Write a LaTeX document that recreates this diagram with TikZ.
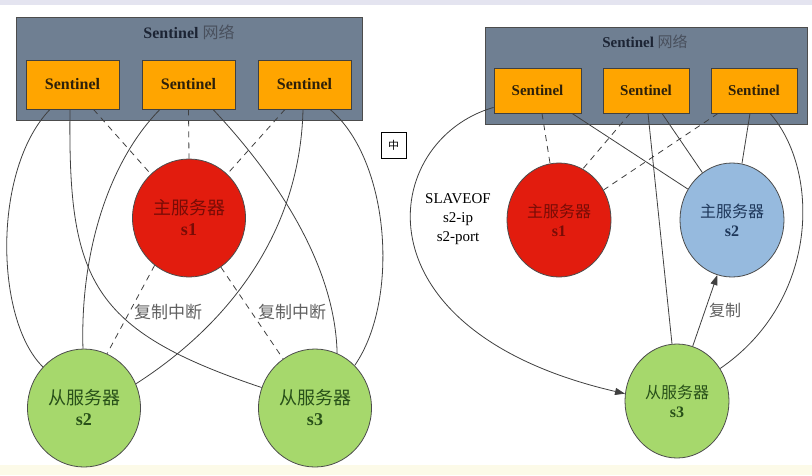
\documentclass[tikz,border=0pt]{standalone}
\usepackage{fontspec}
\setmainfont{Liberation Serif}
\newfontfamily\cjk{Noto Sans CJK SC}
\usetikzlibrary{shapes.geometric,arrows.meta}

\definecolor{netgray}{RGB}{111,127,146}
\definecolor{nettext}{RGB}{28,36,52}
\definecolor{sentorange}{RGB}{255,165,0}
\definecolor{senttext}{RGB}{45,32,10}
\definecolor{mastred}{RGB}{226,28,14}
\definecolor{masttext}{RGB}{120,12,6}
\definecolor{slavegreen}{RGB}{166,216,108}
\definecolor{slavetext}{RGB}{40,80,25}
\definecolor{newblue}{RGB}{150,186,222}
\definecolor{bluetext}{RGB}{30,55,90}
\definecolor{topband}{RGB}{228,228,240}
\definecolor{botband}{RGB}{252,250,232}

\begin{document}
\begin{tikzpicture}[x=1pt, y=-1pt,
  net/.style={draw=black!70, fill=netgray, line width=1pt, inner sep=0pt},
  sent/.style={draw=black!75, fill=sentorange, line width=0.8pt, text=senttext,
    font=\bfseries\fontsize{16}{16}\selectfont},
  srv/.style={ellipse, draw=black!70, line width=0.8pt, align=center, inner sep=0pt},
  link/.style={black!75, line width=0.8pt},
  cut/.style={link, dash pattern=on 6pt off 5pt},
  lbl/.style={text=black!62, font=\cjk\fontsize{17}{17}\selectfont}]

\fill[white] (0,0) rectangle (812,475);
\fill[topband] (0,0) rectangle (812,5);
\fill[botband] (0,465) rectangle (812,475);
\useasboundingbox (0,0) rectangle (812,475);

% left: sentinel network before failover
\node[net, minimum width=346pt, minimum height=103pt] (N1) at (189,68.5) {};
\node[text=nettext, font=\fontsize{16}{16}\selectfont] (T1) at (189,32)
  {\textbf{Sentinel} {\cjk\color{nettext!80} 网络}};
\node[sent, minimum width=93pt, minimum height=49pt] (SA) at (72.5,84.5) {Sentinel};
\node[sent, minimum width=93pt, minimum height=49pt] (SB) at (188.5,84.5) {Sentinel};
\node[sent, minimum width=93pt, minimum height=49pt] (SC) at (304.5,84.5) {Sentinel};

\node[srv, fill=mastred, text=masttext, minimum width=113pt, minimum height=118pt,
  font=\fontsize{18}{21}\selectfont] (M1) at (189,218) {{\cjk 主服务器}\\\textbf{s1}};
\node[srv, fill=slavegreen, text=slavetext, minimum width=113pt, minimum height=118pt,
  font=\fontsize{18}{21}\selectfont] (S2) at (84,408) {{\cjk 从服务器}\\\textbf{s2}};
\node[srv, fill=slavegreen, text=slavetext, minimum width=113pt, minimum height=118pt,
  font=\fontsize{18}{21}\selectfont] (S3) at (315,408) {{\cjk 从服务器}\\\textbf{s3}};

\draw[link] ([xshift=-22.5pt]SA.south) .. controls (-8,170) and (-5,320) .. (S2.135);
\draw[link] ([xshift=-2.5pt]SA.south) .. controls (68,280) and (90,330) .. (S3.159);
\draw[link] ([xshift=-28.5pt]SB.south) .. controls (110,160) and (80,250) .. (S2.91);
\draw[link] ([xshift=24.5pt]SB.south) .. controls (270,170) and (335,260) .. (S3.68);
\draw[link] ([xshift=-1.5pt]SC.south) .. controls (300,240) and (220,330) .. (S2.25);
\draw[link] ([xshift=25.5pt]SC.south) .. controls (390,160) and (400,300) .. (S3.47);

\draw[cut] ([xshift=21pt]SA.south) -- (M1.131);
\draw[cut] (SB.south) -- (M1.north);
\draw[cut] ([xshift=-19.5pt]SC.south) -- (M1.49);
\draw[cut] (M1.234) -- (S2.67);
\draw[cut] (M1.303) -- (S3.123);

\node[lbl] (L1) at (168,312) {复制中断};
\node[lbl] (L2) at (292,312) {复制中断};

% input method box
\node[draw, line width=0.9pt, minimum width=25pt, minimum height=26pt, inner sep=0pt,
  font=\cjk\fontsize{11}{11}\selectfont] (IME) at (393.5,145) {中};

% right: after failover
\node[net, minimum width=322pt, minimum height=97pt] (N2) at (646,75.5) {};
\node[text=nettext, font=\fontsize{15}{15}\selectfont] (T2) at (645,42)
  {\textbf{Sentinel} {\cjk\color{nettext!80} 网络}};
\node[sent, minimum width=87pt, minimum height=45pt, font=\bfseries\fontsize{15}{15}\selectfont] (SD) at (537.5,90.5) {Sentinel};
\node[sent, minimum width=86pt, minimum height=45pt, font=\bfseries\fontsize{15}{15}\selectfont] (SE) at (646,90.5) {Sentinel};
\node[sent, minimum width=86pt, minimum height=45pt, font=\bfseries\fontsize{15}{15}\selectfont] (SF) at (754,90.5) {Sentinel};

\node[srv, fill=mastred, text=masttext, minimum width=104pt, minimum height=114pt,
  font=\fontsize{16}{19}\selectfont] (R1) at (559,220) {{\cjk 主服务器}\\\textbf{s1}};
\node[srv, fill=newblue, text=bluetext, minimum width=104pt, minimum height=114pt,
  font=\fontsize{16}{19}\selectfont] (R2) at (732,220) {{\cjk 主服务器}\\\textbf{s2}};
\node[srv, fill=slavegreen, text=slavetext, minimum width=104pt, minimum height=114pt,
  font=\fontsize{16}{19}\selectfont] (R3) at (677,401) {{\cjk 从服务器}\\\textbf{s3}};

\draw[link, -{Triangle[length=10pt, width=7pt]}] ([yshift=6pt]SD.south west)
  .. controls (380,140) and (350,330) .. (R3.172);
\draw[cut] ([xshift=4.5pt]SD.south) -- (R1.99);
\draw[link] ([xshift=34.5pt]SD.south) -- (R2.145);
\draw[cut] ([xshift=-16pt]SE.south) -- (R1.65);
\draw[link] ([xshift=2pt]SE.south) -- (R3.95);
\draw[link] ([xshift=16pt]SE.south) -- (R2.122);
\draw[cut] ([xshift=-36pt]SF.south) -- (R1.34);
\draw[link] ([xshift=-4pt]SF.south) -- (R2.80);
\draw[link] ([xshift=16pt]SF.south) .. controls (820,170) and (820,300) .. (R3.37);
\draw[link, -{Triangle[length=10pt, width=7pt]}] (R3.74) -- (R2.255);

\node[align=center, font=\fontsize{15}{19}\selectfont] (CMD) at (458,219)
  {SLAVEOF\\s2-ip\\s2-port};
\node[lbl, font=\cjk\fontsize{16}{16}\selectfont] (L3) at (725,310) {复制};

\end{tikzpicture}
\end{document}
